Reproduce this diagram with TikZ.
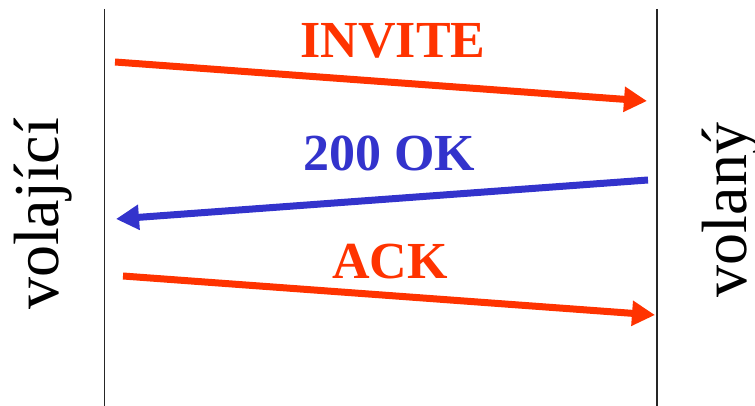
\documentclass[tikz,border=0pt]{standalone}
\usepackage{fontspec}
\setmainfont{Liberation Serif}
\usetikzlibrary{arrows.meta}
\definecolor{sipred}{RGB}{255,51,0}
\definecolor{sipblue}{RGB}{51,51,204}

\begin{document}
\begin{tikzpicture}[x=1pt, y=-1pt,
  lifeline/.style={line width=1.7pt, black!85},
  msg/.style={line width=7pt, -{Triangle[length=23pt, width=24pt]}},
  msglabel/.style={anchor=base, inner sep=0pt, font=\fontsize{52}{52}\selectfont\bfseries},
  party/.style={anchor=base, rotate=90, inner sep=0pt, font=\fontsize{64}{64}\selectfont},
]
  \useasboundingbox (0,0) rectangle (755,406);

  \coordinate (caller-top) at (104.5,9);
  \coordinate (caller-bot) at (104.5,406);
  \coordinate (callee-top) at (657,9);
  \coordinate (callee-bot) at (657,406);
  \draw[lifeline] (caller-top) -- (caller-bot);
  \draw[lifeline] (callee-top) -- (callee-bot);

  \node[party] (caller) at (58,214) {volající};
  \node[party] (callee) at (746,210) {volaný};

  \coordinate (inv-s) at (115,62);
  \coordinate (inv-e) at (647,101);
  \coordinate (ok-s) at (648,180);
  \coordinate (ok-e) at (116,219);
  \coordinate (ack-s) at (123,276);
  \coordinate (ack-e) at (655,315);

  \draw[msg, sipred] (inv-s) -- (inv-e);
  \draw[msg, sipblue] (ok-s) -- (ok-e);
  \draw[msg, sipred] (ack-s) -- (ack-e);

  \node[msglabel, sipred] (invite) at (393,58) {INVITE};
  \node[msglabel, sipblue] (ok) at (389,171) {200 OK};
  \node[msglabel, sipred] (ack) at (390,278) {ACK};
\end{tikzpicture}
\end{document}
